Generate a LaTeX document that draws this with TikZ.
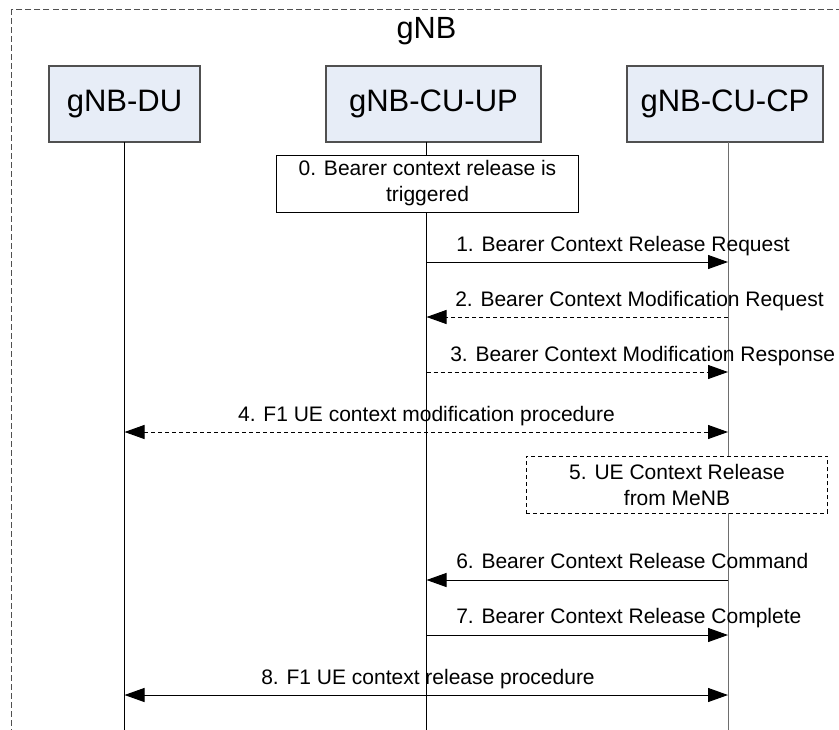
\documentclass[tikz,border=0pt]{standalone}
\usepackage{fontspec}
\setmainfont{Liberation Sans}
\usetikzlibrary{arrows.meta}
\definecolor{boxfill}{RGB}{231,237,247}
\definecolor{boxline}{RGB}{80,80,80}
\definecolor{lifegray}{RGB}{110,110,110}
\begin{document}
\begin{tikzpicture}[x=0.75pt,y=-0.75pt,
  entity/.style={draw=boxline,fill=boxfill,line width=0.9pt,minimum height=57pt,inner sep=0pt,font=\fontsize{23.25pt}{26pt}\selectfont},
  notebox/.style={draw=black,fill=white,line width=0.75pt,minimum width=226pt,minimum height=42.75pt,inner sep=0pt,align=center,font=\fontsize{15.75pt}{19.5pt}\selectfont},
  lifeline/.style={line width=0.75pt},
  msg/.style={line width=0.75pt,-{Triangle[length=15pt,width=10.5pt]}},
  dmsg/.style={msg,dash pattern=on 3pt off 2.25pt},
  lbl/.style={inner sep=0pt,anchor=base west,font=\fontsize{15.75pt}{19pt}\selectfont},
  clbl/.style={inner sep=0pt,anchor=base,font=\fontsize{15.75pt}{19pt}\selectfont}]
\useasboundingbox (0,0) rectangle (839,729);
\clip (0,0) rectangle (839,729);
\fill[white] (0,0) rectangle (839,729);
% outer dashed frame
\draw[boxline,line width=0.75pt,dash pattern=on 4.5pt off 2.25pt] (11.5,9) rectangle (900,800);
\node[inner sep=0pt,anchor=base,font=\fontsize{23pt}{26pt}\selectfont] (gnb) at (426.5,38) {gNB};
% entities
\node[entity,minimum width=113.25pt] (du) at (124.5,104) {gNB-DU};
\node[entity,minimum width=161.25pt] (up) at (433.5,104) {gNB-CU-UP};
\node[entity,minimum width=147pt] (cp) at (725,104) {gNB-CU-CP};
% lifeline coordinates
\coordinate (duT) at (124.5,142);
\coordinate (upT) at (426.5,142);
\coordinate (cpT) at (728,142);
\coordinate (duB) at (124.5,735);
\coordinate (upB) at (426.5,735);
\coordinate (cpB) at (728,735);
\draw[lifeline] (duT) -- (duB);
\draw[lifeline] (upT) -- (upB);
\draw[lifeline,draw=lifegray] (cpT) -- (cpB);
% notes
\node[notebox] (n0) at (427.5,183.5) {0. Bearer context release is\\triggered};
\node[notebox,dash pattern=on 3pt off 2.25pt] (n5) at (677,484.5) {5. UE Context Release\\from MeNB};
% message rows
\coordinate (y1) at (0,262);
\coordinate (y2) at (0,317);
\coordinate (y3) at (0,372);
\coordinate (y4) at (0,432);
\coordinate (y6) at (0,580);
\coordinate (y7) at (0,635);
\coordinate (y8) at (0,695);
\draw[msg] (upT |- y1) -- (cpT |- y1);
\draw[dmsg] (cpT |- y2) -- (upT |- y2);
\draw[dmsg] (upT |- y3) -- (cpT |- y3);
\draw[dmsg,{Triangle[length=15pt,width=10.5pt]}-{Triangle[length=15pt,width=10.5pt]}] (duT |- y4) -- (cpT |- y4);
\draw[msg] (cpT |- y6) -- (upT |- y6);
\draw[msg] (upT |- y7) -- (cpT |- y7);
\draw[msg,{Triangle[length=15pt,width=10.5pt]}-{Triangle[length=15pt,width=10.5pt]}] (duT |- y8) -- (cpT |- y8);
% labels
\node[lbl] (l1) at (456,251) {1. Bearer Context Release Request};
\node[lbl] (l2) at (455,306) {2. Bearer Context Modification Request};
\node[lbl] (l3) at (450,361) {3. Bearer Context Modification Response};
\node[clbl] (l4) at (426.5,421) {4. F1 UE context modification procedure};
\node[lbl] (l6) at (456,568) {6. Bearer Context Release Command};
\node[lbl] (l7) at (456,623) {7. Bearer Context Release Complete};
\node[clbl] (l8) at (428,684) {8. F1 UE context release procedure};
\end{tikzpicture}
\end{document}
